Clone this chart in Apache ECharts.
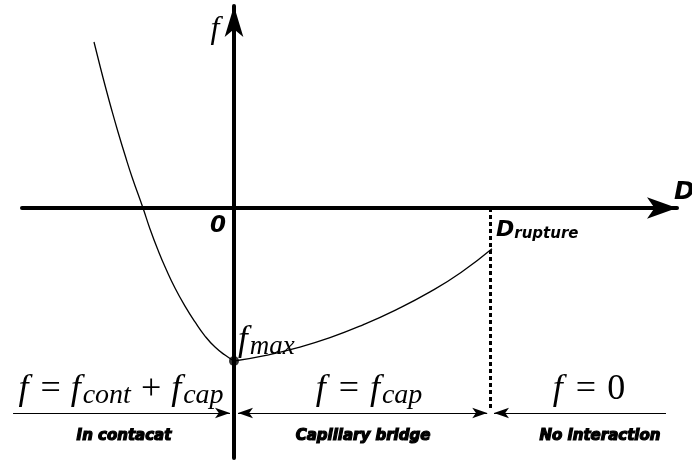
<!DOCTYPE html>
<html>
<head>
<meta charset="utf-8">
<script src="https://cdn.jsdelivr.net/npm/echarts@6/dist/echarts.min.js"></script>
<style>
  html, body { margin: 0; padding: 0; background: #fff; }
  #chart { width: 692px; height: 462px; }
</style>
</head>
<body>
<div id="chart"></div>
<script>
// Force–separation law f(D) of a capillary bridge between two grains.
// D is scaled so that D_rupture = 1 and f so that f_max = -1.
const D_RUPTURE = 1;
const F_MAX = -1;

// Contact branch (D < 0): f = f_cont + f_cap
const contactD = [-0.5469, -0.5234, -0.5, -0.4766, -0.4531, -0.4258, -0.3984, -0.3555, -0.3281,
  -0.2969, -0.2656, -0.2305, -0.1914, -0.1523, -0.1133, -0.0742, -0.0352, 0];
const contactF = [1.085, 0.928, 0.778, 0.634, 0.497, 0.346, 0.203, 0, -0.137,
  -0.275, -0.399, -0.523, -0.641, -0.745, -0.837, -0.909, -0.961, -1];

// Capillary bridge branch (0 <= D <= D_rupture): f = f_cap
const bridgeD = [0, 0.125, 0.2461, 0.375, 0.5039, 0.6328, 0.7656, 0.8867, 1.0078];
const bridgeF = [-1, -0.9625, -0.9141, -0.8471, -0.7633, -0.6653, -0.5484, -0.4213, -0.2663];

// Axis extents
const X_MIN = -0.828125, X_MAX = 1.73047;
const Y_MIN = -1.634, Y_MAX = 1.3203;

// Regime arrows along the bottom of the diagram
const F_REGION = -1.34;
const REGION_LEFT = -0.863, REGION_RIGHT = 1.6875;
const GAP = 0.0156;
const F_DASH_END = -1.32;

const pairs = (xs, ys) => xs.map((x, i) => [x, ys[i]]);

const chart = echarts.init(document.getElementById('chart'), null, { renderer: 'canvas' });

const mathFont = '"Liberation Serif", "DejaVu Serif", serif';
const sansFont = '"DejaVu Sans", sans-serif';

function eqRich(size, subSize, opPad) {
  return {
    i: { fontFamily: mathFont, fontStyle: 'italic', fontSize: size, lineHeight: size + 4, color: '#000', padding: [0, 2, 0, 0] },
    o: { fontFamily: mathFont, fontSize: size, lineHeight: size + 4, color: '#000', padding: [0, opPad, 0, opPad] },
    n: { fontFamily: mathFont, fontSize: size, lineHeight: size + 4, color: '#000' },
    s: { fontFamily: mathFont, fontStyle: 'italic', fontSize: subSize, lineHeight: subSize + 2, verticalAlign: 'bottom', color: '#000' }
  };
}

const labelStyle = (text, x) => ({
  type: 'text', x: x, y: 436,
  style: { text: text, fontFamily: sansFont, fontStyle: 'italic', fontWeight: 'bold',
    fontSize: 15, align: 'center', verticalAlign: 'middle', fill: '#000', stroke: '#000', lineWidth: 1.2 }
});

const option = {
  animation: false,
  backgroundColor: '#fff',
  grid: { left: 22, right: 15, top: 6, bottom: 4 },
  xAxis: {
    type: 'value', min: X_MIN, max: X_MAX,
    axisLine: { show: true, onZero: true, symbol: ['none', 'arrow'], symbolSize: [16, 30],
      lineStyle: { color: '#000', width: 4 } },
    axisTick: { show: false }, axisLabel: { show: false }, splitLine: { show: false }
  },
  yAxis: {
    type: 'value', min: Y_MIN, max: Y_MAX,
    axisLine: { show: true, onZero: true, symbol: ['none', 'arrow'], symbolSize: [14, 31],
      lineStyle: { color: '#000', width: 4 } },
    axisTick: { show: false }, axisLabel: { show: false }, splitLine: { show: false }
  },
  series: [
    {
      name: 'contact', type: 'line', data: pairs(contactD, contactF),
      smooth: 0.5, showSymbol: false, clip: false,
      lineStyle: { color: '#000', width: 1.3 }
    },
    {
      name: 'bridge', type: 'line', data: pairs(bridgeD, bridgeF),
      smooth: 0.5, showSymbol: false, clip: false,
      lineStyle: { color: '#000', width: 1.3 }
    },
    {
      name: 'fmax', type: 'scatter', data: [[0, F_MAX]], symbolSize: 10, z: 6,
      itemStyle: { color: '#000' }
    },
    {
      name: 'rupture', type: 'lines', coordinateSystem: 'cartesian2d', clip: false,
      symbol: ['none', 'none'],
      lineStyle: { color: '#000', width: 3, type: [4, 3], opacity: 1, curveness: 0 },
      data: [{ coords: [[D_RUPTURE, 0], [D_RUPTURE, F_DASH_END]] }]
    },
    {
      name: 'regionsOneSided', type: 'lines', coordinateSystem: 'cartesian2d', clip: false,
      symbol: ['none', 'arrow'], symbolSize: [[8, 15], [8, 15]],
      lineStyle: { color: '#000', width: 1, opacity: 1, curveness: 0 },
      data: [
        { coords: [[REGION_LEFT, F_REGION], [-GAP, F_REGION]] },
        { coords: [[REGION_RIGHT, F_REGION], [D_RUPTURE + GAP, F_REGION]] }
      ]
    },
    {
      name: 'regionBridge', type: 'lines', coordinateSystem: 'cartesian2d', clip: false,
      symbol: ['arrow', 'arrow'], symbolSize: [[8, 15], [8, 15]],
      lineStyle: { color: '#000', width: 1, opacity: 1, curveness: 0 },
      data: [{ coords: [[GAP, F_REGION], [D_RUPTURE - GAP * 0.7, F_REGION]] }]
    }
  ],
  graphic: [
    { type: 'text', x: 215, y: 30, style: { text: 'f', fontFamily: mathFont, fontStyle: 'italic', fontSize: 32,
      align: 'center', verticalAlign: 'middle', fill: '#000' } },
    { type: 'text', x: 674, y: 192, style: { text: 'D', fontFamily: sansFont, fontStyle: 'italic', fontWeight: 'bold',
      fontSize: 25, align: 'left', verticalAlign: 'middle', fill: '#000' } },
    { type: 'text', x: 218, y: 226, style: { text: '0', fontFamily: sansFont, fontStyle: 'italic', fontWeight: 'bold',
      fontSize: 23, align: 'center', verticalAlign: 'middle', fill: '#000' } },
    { type: 'text', x: 496, y: 230, style: {
      text: '{b|D}{s|rupture}', align: 'left', verticalAlign: 'middle',
      rich: {
        b: { fontFamily: sansFont, fontStyle: 'italic', fontWeight: 'bold', fontSize: 22, lineHeight: 24, color: '#000' },
        s: { fontFamily: sansFont, fontStyle: 'italic', fontWeight: 'bold', fontSize: 15, lineHeight: 17, verticalAlign: 'bottom', color: '#000' }
      } } },
    { type: 'text', x: 238, y: 341, style: {
      text: '{i|f}{s|max}', align: 'left', verticalAlign: 'middle', rich: eqRich(35, 27, 0) } },
    { type: 'text', x: 121, y: 390, style: {
      text: '{i|f}{o|=}{i|f}{s|cont}{o|+}{i|f}{s|cap}', align: 'center', verticalAlign: 'middle', rich: eqRich(36, 28, 10) } },
    { type: 'text', x: 369, y: 390, style: {
      text: '{i|f}{o|=}{i|f}{s|cap}', align: 'center', verticalAlign: 'middle', rich: eqRich(36, 28, 11) } },
    { type: 'text', x: 589, y: 390, style: {
      text: '{i|f}{o|=}{n|0}', align: 'center', verticalAlign: 'middle', rich: eqRich(36, 28, 11) } },
    labelStyle('In contacat', 124),
    labelStyle('Capillary bridge', 363),
    labelStyle('No interaction', 600)
  ]
};

chart.setOption(option);
</script>
</body>
</html>
